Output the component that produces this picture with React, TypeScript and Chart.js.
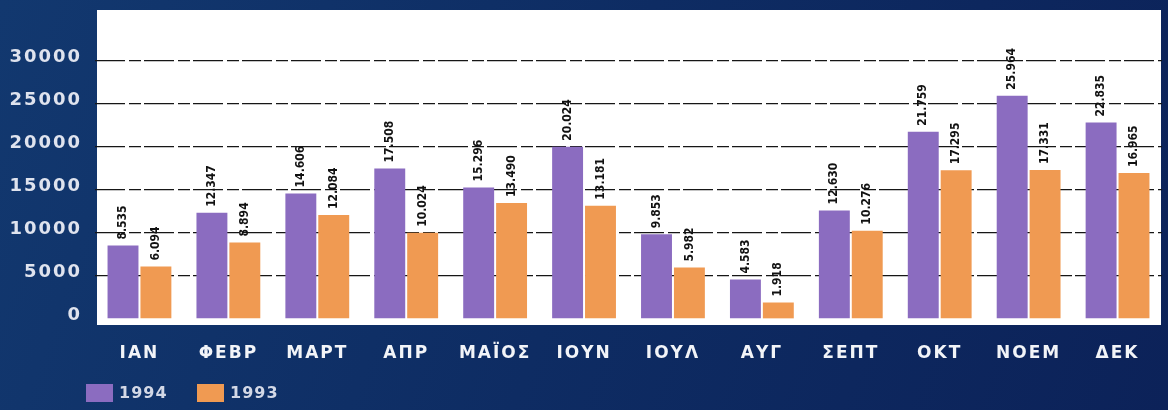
import React, { useEffect, useRef } from "react";
import { Chart, registerables } from "chart.js";

Chart.register(...registerables);

const months = ["ΙΑΝ", "ΦΕΒΡ", "ΜΑΡΤ", "ΑΠΡ", "ΜΑΪΟΣ", "ΙΟΥΝ", "ΙΟΥΛ", "ΑΥΓ", "ΣΕΠΤ", "ΟΚΤ", "ΝΟΕΜ", "ΔΕΚ"];
const values1994 = [8535, 12347, 14606, 17508, 15296, 20024, 9853, 4583, 12630, 21759, 25964, 22835];
const values1993 = [6094, 8894, 12084, 10024, 13490, 13181, 5982, 1918, 10276, 17295, 17331, 16965];
const seriesNames = ["1994", "1993"];
const yTicks = [0, 5000, 10000, 15000, 20000, 25000, 30000];

const PURPLE = "#8b6cc0";
const ORANGE = "#f09a52";

// Greek style thousands separator: 12347 -> "12.347"
const fmt = (v: number) => String(v).replace(/\B(?=(\d{3})+(?!\d))/g, ".");

const backdrop = {
  id: "backdrop",
  beforeDraw(chart: any) {
    const { ctx, width, height, chartArea } = chart;
    const g = ctx.createLinearGradient(0, 0, width, height);
    g.addColorStop(0, "#12386f");
    g.addColorStop(0.5, "#0e2c63");
    g.addColorStop(1, "#0c2259");
    ctx.fillStyle = g;
    ctx.fillRect(0, 0, width, height);
    // white plotting panel
    ctx.fillStyle = "#ffffff";
    ctx.fillRect(chartArea.left + 2, 10, chartArea.right - chartArea.left - 3, chartArea.bottom + 6 - 10);
    // wide spacing for the axis lettering drawn next
    ctx.letterSpacing = "2px";
  },
};

const valueLabels = {
  id: "valueLabels",
  afterDatasetsDraw(chart: any) {
    const { ctx } = chart;
    ctx.save();
    ctx.letterSpacing = "0px";
    ctx.fillStyle = "#111111";
    ctx.font = "bold 12px 'DejaVu Sans Condensed', 'DejaVu Sans'";
    ctx.textAlign = "left";
    ctx.textBaseline = "middle";
    chart.data.datasets.forEach((ds: any, i: number) => {
      const meta = chart.getDatasetMeta(i);
      meta.data.forEach((bar: any, j: number) => {
        ctx.save();
        ctx.translate(bar.x, bar.y - 6);
        ctx.rotate(-Math.PI / 2);
        ctx.fillText(fmt(ds.data[j]), 0, 0);
        ctx.restore();
      });
    });
    ctx.restore();
  },
};

const legendBoxes = {
  id: "legendBoxes",
  afterDraw(chart: any) {
    const { ctx } = chart;
    ctx.save();
    ctx.letterSpacing = "1px";
    ctx.font = "bold 16px 'DejaVu Sans'";
    ctx.textBaseline = "middle";
    ctx.textAlign = "left";
    const starts = [86, 197];
    chart.data.datasets.forEach((ds: any, i: number) => {
      const x = starts[i];
      ctx.fillStyle = ds.backgroundColor;
      ctx.fillRect(x, 384, 27, 18);
      ctx.fillStyle = "#d3d8e6";
      ctx.fillText(ds.label, x + 33, 394);
    });
    ctx.restore();
    ctx.letterSpacing = "0px";
  },
};

export default function App() {
  const ref = useRef<HTMLCanvasElement | null>(null);

  useEffect(() => {
    document.body.style.margin = "0";
    const canvas = ref.current;
    if (!canvas) return;
    const chart = new Chart(canvas, {
      type: "bar",
      data: {
        labels: months,
        datasets: [
          { label: seriesNames[0], data: values1994, backgroundColor: PURPLE },
          { label: seriesNames[1], data: values1993, backgroundColor: ORANGE },
        ],
      },
      options: {
        responsive: false,
        animation: false,
        layout: { padding: { top: 61, right: 6, left: 0, bottom: 0 } },
        datasets: { bar: { categoryPercentage: 0.74, barPercentage: 0.94 } },
        plugins: { legend: { display: false }, tooltip: { enabled: false } },
        scales: {
          x: {
            grid: { display: false, drawTicks: false },
            border: { display: false },
            ticks: {
              color: "#f2f4f8",
              font: { family: "'DejaVu Sans'", weight: "bold", size: 17 },
              padding: 24,
              maxRotation: 0,
              autoSkip: false,
            },
            afterFit: (scale: any) => {
              scale.height = 91;
            },
          },
          y: {
            min: 0,
            max: 30000,
            afterBuildTicks: (scale: any) => {
              scale.ticks = yTicks.map((v) => ({ value: v }));
            },
            grid: {
              drawTicks: false,
              color: (c: any) => (c.tick && c.tick.value === 0 ? "rgba(0,0,0,0)" : "#161616"),
              lineWidth: 1.3,
            },
            border: { display: false, dash: [30, 4, 12, 3] },
            ticks: {
              color: "#dfe3ee",
              font: { family: "'DejaVu Sans'", weight: "bold", size: 18 },
              padding: 13,
              labelOffset: -4,
              callback: (v: any) => String(v),
            },
            afterFit: (scale: any) => {
              scale.width = 95;
            },
          },
        },
      },
      plugins: [backdrop, valueLabels, legendBoxes],
    });
    return () => chart.destroy();
  }, []);

  return <canvas ref={ref} width={1168} height={410} style={{ display: "block" }} />;
}
